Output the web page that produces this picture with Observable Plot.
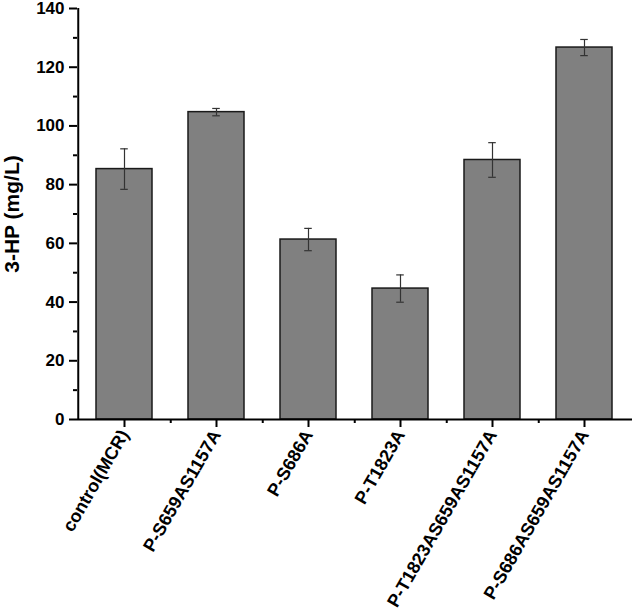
<!DOCTYPE html>
<html>
<head>
<meta charset="utf-8">
<script src="https://cdn.jsdelivr.net/npm/d3@7"></script>
<script src="https://cdn.jsdelivr.net/npm/@observablehq/plot@0.6"></script>
<style>
  html, body { margin: 0; padding: 0; background: #fff; }
  #chart svg { font-family: "Liberation Sans", Arial, sans-serif; font-weight: bold; }
  #chart svg g[aria-label$="axis tick"] path { stroke-width: 2px; stroke: #000; }
</style>
</head>
<body>
<div id="chart"></div>
<script>
const categories = ["control(MCR)", "P-S659AS1157A", "P-S686A", "P-T1823A", "P-T1823AS659AS1157A", "P-S686AS659AS1157A"];
const values = [85.3, 104.7, 61.3, 44.6, 88.4, 126.7];
const errors = [6.9, 1.25, 3.8, 4.65, 5.9, 2.75];
const majorTicks = [0, 20, 40, 60, 80, 100, 120, 140];
const minorTicks = [10, 30, 50, 70, 90, 110, 130];
const yLabel = "3-HP (mg/L)";

const data = categories.map((c, i) => ({cat: c, v: values[i], lo: values[i] - errors[i], hi: values[i] + errors[i]}));

const W = 634, H = 616, mL = 77, mR = 2, mT = 8, mB = 197;
const padInner = 0.39;
const step = (W - mL - mR) / categories.length;
const bw = step * (1 - padInner);
const capW = 8;
const capInset = (bw - capW) / 2;

const chart = Plot.plot({
  width: W,
  height: H,
  marginLeft: mL,
  marginRight: mR,
  marginTop: mT,
  marginBottom: mB,
  style: {fontSize: "17px", fontWeight: "bold", color: "#000", background: "#fff"},
  x: {domain: categories, paddingInner: padInner, paddingOuter: padInner / 2, align: 0.5},
  y: {domain: [0, 140]},
  marks: [
    Plot.barY(data, {x: "cat", y: "v", fill: "#808080", stroke: "#1a1a1a", strokeWidth: 1.5}),
    Plot.ruleX(data, {x: "cat", y1: "lo", y2: "hi", stroke: "#333", strokeWidth: 1.2}),
    Plot.tickY(data, {x: "cat", y: "lo", stroke: "#333", strokeWidth: 1.2, insetLeft: capInset, insetRight: capInset}),
    Plot.tickY(data, {x: "cat", y: "hi", stroke: "#333", strokeWidth: 1.2, insetLeft: capInset, insetRight: capInset}),
    Plot.ruleY([0], {stroke: "#000", strokeWidth: 2}),
    Plot.ruleX([categories[0]], {dx: -step / 2, y1: 0, y2: 140, stroke: "#000", strokeWidth: 2}),
    Plot.axisY({ticks: majorTicks, tickSize: 8, tickPadding: 5, strokeWidth: 2, fontSize: 17,
      label: yLabel, labelAnchor: "center", labelArrow: "none", labelOffset: 73}),
    Plot.axisY({ticks: minorTicks, tickSize: 4, strokeWidth: 2, text: null, label: null}),
    Plot.axisX({tickSize: 8, strokeWidth: 2, tickRotate: -60, tickPadding: 4, fontSize: 18, label: null}),
    Plot.axisX({ticks: categories.slice(0, -1), tickSize: 4, strokeWidth: 2, dx: step / 2, text: null, label: null})
  ]
});
document.getElementById("chart").appendChild(chart);
// enlarge the y-axis title to match the reference
chart.querySelectorAll('g[aria-label="y-axis label"] text').forEach(t => t.style.fontSize = "21px");
</script>
</body>
</html>
